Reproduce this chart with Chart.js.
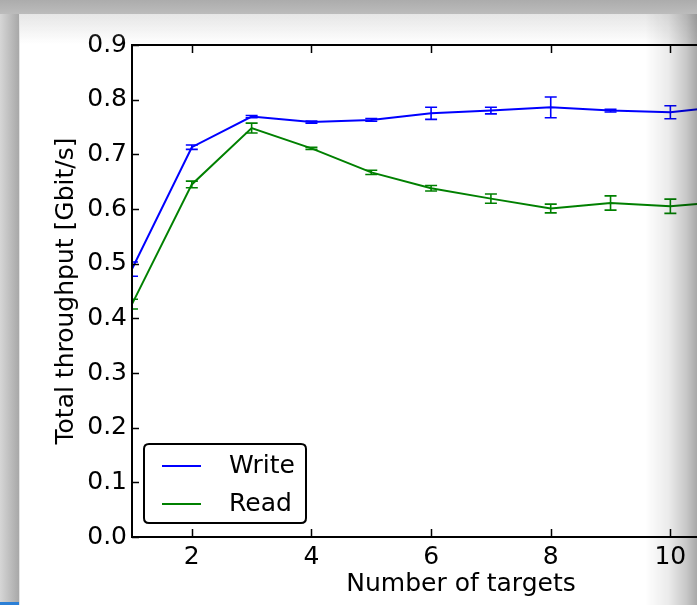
<!DOCTYPE html>
<html>
<head>
<meta charset="utf-8">
<script src="https://cdn.jsdelivr.net/npm/chart.js@4.4.1/dist/chart.umd.min.js"></script>
<style>
  html, body { margin: 0; padding: 0; width: 697px; height: 605px; overflow: hidden; background: #fff; }
  #wrap { position: absolute; left: 0; top: 0; width: 820px; height: 605px; }
  .ov { position: absolute; pointer-events: none; }
  #leftBand { left: 0; top: 0; width: 19px; height: 605px; background: linear-gradient(to right, #d6d6d6, #a8a8a8); }
  #leftEdge { left: 19px; top: 14px; width: 1px; height: 591px; background: #e4e4e4; }
  #topBand { left: 0; top: 0; width: 697px; height: 14px; background: linear-gradient(to bottom, #acacac, #bcbcbc); }
  #topFade { left: 20px; top: 14px; width: 677px; height: 30px; background: linear-gradient(to bottom, rgba(200,200,200,0.45), rgba(255,255,255,0)); }
  #rightFade { left: 645px; top: 0; width: 52px; height: 605px; background: linear-gradient(to right, rgba(0,0,0,0) 0%, rgba(0,0,0,0.08) 45%, rgba(0,0,0,0.22) 80%, rgba(0,0,0,0.34) 100%); }
  #bottomBlue { left: 0; top: 602px; width: 19px; height: 3px; background: #2b7fd6; }
</style>
</head>
<body>
<div id="wrap"><canvas id="c" width="820" height="605"></canvas></div>
<div class="ov" id="topFade"></div>
<div class="ov" id="rightFade"></div>
<div class="ov" id="leftBand"></div>
<div class="ov" id="leftEdge"></div>
<div class="ov" id="topBand"></div>
<div class="ov" id="bottomBlue"></div>
<script>
// ---- data ----
const targets   = [1, 2, 3, 4, 5, 6, 7, 8, 9, 10, 11];
const writeVals = [0.490, 0.713, 0.769, 0.759, 0.763, 0.775, 0.780, 0.786, 0.780, 0.777, 0.789];
const writeErr  = [0.013, 0.004, 0.002, 0.002, 0.0025, 0.011, 0.006, 0.019, 0.0025, 0.012, 0.005];
const readVals  = [0.426, 0.645, 0.748, 0.711, 0.667, 0.638, 0.619, 0.601, 0.611, 0.605, 0.614];
const readErr   = [0.009, 0.006, 0.009, 0.002, 0.004, 0.005, 0.0085, 0.008, 0.013, 0.013, 0.005];
const xTicks = [2, 4, 6, 8, 10];
const yTicks = [0.0, 0.1, 0.2, 0.3, 0.4, 0.5, 0.6, 0.7, 0.8, 0.9];
const seriesNames = ['Write', 'Read'];
const seriesColors = ['#0000ff', '#008000'];

const FONT = '"DejaVu Sans", "Liberation Sans", sans-serif';

const toPts = vals => vals.map((v, i) => ({ x: targets[i], y: v }));

const decor = {
  id: 'decor',
  afterDatasetsDraw(chart) {
    const { ctx, chartArea: a, scales: { x, y } } = chart;
    // error bars (clipped to the axes like matplotlib)
    ctx.save();
    ctx.beginPath();
    ctx.rect(a.left, a.top, a.right - a.left, a.bottom - a.top);
    ctx.clip();
    chart.data.datasets.forEach(ds => {
      ctx.strokeStyle = ds.borderColor;
      ctx.lineWidth = 1.6;
      ds.data.forEach((p, i) => {
        const e = ds.errors[i];
        const px = x.getPixelForValue(p.x);
        const yLo = y.getPixelForValue(p.y - e);
        const yHi = y.getPixelForValue(p.y + e);
        ctx.beginPath();
        ctx.moveTo(px, yLo); ctx.lineTo(px, yHi);
        ctx.moveTo(px - 6, yLo); ctx.lineTo(px + 6, yLo);
        ctx.moveTo(px - 6, yHi); ctx.lineTo(px + 6, yHi);
        ctx.stroke();
      });
    });
    ctx.restore();

    // frame
    ctx.save();
    ctx.strokeStyle = '#000';
    ctx.lineWidth = 2;
    ctx.strokeRect(a.left, a.top, a.right - a.left, a.bottom - a.top);
    // inward ticks
    ctx.lineWidth = 1.5;
    ctx.beginPath();
    xTicks.forEach(v => {
      const px = Math.round(x.getPixelForValue(v)) + 0.5;
      ctx.moveTo(px, a.bottom); ctx.lineTo(px, a.bottom - 8);
      ctx.moveTo(px, a.top); ctx.lineTo(px, a.top + 8);
    });
    yTicks.forEach(v => {
      const py = Math.round(y.getPixelForValue(v)) + 0.5;
      ctx.moveTo(a.left, py); ctx.lineTo(a.left + 7, py);
      ctx.moveTo(a.right, py); ctx.lineTo(a.right - 7, py);
    });
    ctx.stroke();
    ctx.restore();

    // legend (lower left, inside axes)
    ctx.save();
    const bx = a.left + 12, by = a.bottom - 93, bw = 162, bh = 79, r = 5;
    ctx.beginPath();
    ctx.moveTo(bx + r, by);
    ctx.lineTo(bx + bw - r, by); ctx.quadraticCurveTo(bx + bw, by, bx + bw, by + r);
    ctx.lineTo(bx + bw, by + bh - r); ctx.quadraticCurveTo(bx + bw, by + bh, bx + bw - r, by + bh);
    ctx.lineTo(bx + r, by + bh); ctx.quadraticCurveTo(bx, by + bh, bx, by + bh - r);
    ctx.lineTo(bx, by + r); ctx.quadraticCurveTo(bx, by, bx + r, by);
    ctx.closePath();
    ctx.fillStyle = '#fff';
    ctx.fill();
    ctx.strokeStyle = '#000';
    ctx.lineWidth = 2;
    ctx.stroke();
    ctx.font = '25px ' + FONT;
    ctx.textBaseline = 'middle';
    ctx.textAlign = 'left';
    chart.data.datasets.forEach((ds, i) => {
      const ly = by + 22 + i * 38;
      ctx.strokeStyle = ds.borderColor;
      ctx.lineWidth = 2;
      ctx.beginPath();
      ctx.moveTo(bx + 18, ly); ctx.lineTo(bx + 57, ly);
      ctx.stroke();
      ctx.fillStyle = '#000';
      ctx.fillText(ds.label, bx + 85, ly);
    });
    ctx.restore();
  }
};

new Chart(document.getElementById('c'), {
  type: 'line',
  data: {
    datasets: [
      { label: seriesNames[0], data: toPts(writeVals), errors: writeErr, borderColor: seriesColors[0], backgroundColor: seriesColors[0], borderWidth: 2, pointRadius: 0, tension: 0, fill: false },
      { label: seriesNames[1], data: toPts(readVals), errors: readErr, borderColor: seriesColors[1], backgroundColor: seriesColors[1], borderWidth: 2, pointRadius: 0, tension: 0, fill: false }
    ]
  },
  options: {
    responsive: false,
    animation: false,
    devicePixelRatio: 1,
    layout: { padding: { left: 0, top: 45, right: 30, bottom: 0 } },
    plugins: { legend: { display: false }, tooltip: { enabled: false } },
    scales: {
      x: {
        type: 'linear',
        min: 1, max: 12,
        afterBuildTicks: s => { s.ticks = xTicks.map(v => ({ value: v })); },
        afterFit: s => { s.height = 68; },
        grid: { display: false, drawTicks: false },
        border: { display: false },
        ticks: { color: '#000', font: { family: FONT, size: 25 }, padding: 5, maxRotation: 0, autoSkip: false },
        title: { display: true, text: 'Number of targets', color: '#000', font: { family: FONT, size: 25 }, padding: { top: 0, bottom: 6 } }
      },
      y: {
        min: 0, max: 0.9,
        afterBuildTicks: s => { s.ticks = yTicks.map(v => ({ value: v })); },
        afterFit: s => { s.width = 132; },
        grid: { display: false, drawTicks: false },
        border: { display: false },
        ticks: { color: '#000', font: { family: FONT, size: 25 }, padding: 5, callback: v => Number(v).toFixed(1) },
        title: { display: true, text: 'Total throughput [Gbit/s]', color: '#000', font: { family: FONT, size: 25 }, padding: { top: 51, bottom: 0 } }
      }
    }
  },
  plugins: [decor]
});
</script>
</body>
</html>
